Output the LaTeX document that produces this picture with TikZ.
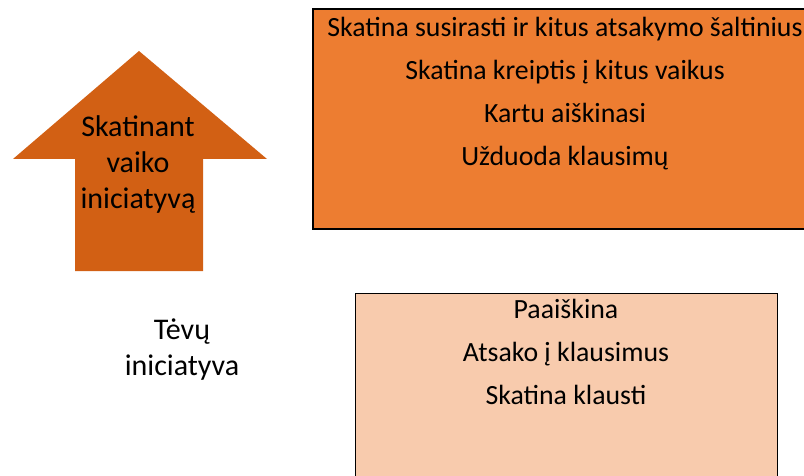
\documentclass[tikz,border=0pt]{standalone}
\usepackage{fontspec}
\setmainfont{Carlito}
\usepackage{tikz}

\definecolor{arrowfill}{RGB}{210,96,20}
\definecolor{topfill}{RGB}{237,125,49}
\definecolor{lowfill}{RGB}{248,203,173}

\tikzset{
	txt/.style={font=\fontsize{27.8}{30}\selectfont, text=black, inner sep=0pt, anchor=base},
	bigtxt/.style={txt, font=\fontsize{30}{32}\selectfont},
	boxline/.style={draw=black, line width=1.5pt}
}

\begin{document}
\begin{tikzpicture}[x=1pt, y=-1pt]
		\useasboundingbox (0,0) rectangle (804,476);
		
		% up arrow
		\fill [arrowfill] (139,51) -- (267,159) -- (203,159) -- (203,271)
			-- (75,271) -- (75,159) -- (13,159) -- cycle;
		\node [bigtxt] (arrow1) at (138,137) {Skatinant};
		\node [bigtxt] (arrow2) at (138,173) {vaiko};
		\node [bigtxt] (arrow3) at (138,208) {iniciatyvą};
		
		% parent label
		\node [bigtxt] (parent1) at (182,339) {Tėvų};
		\node [bigtxt] (parent2) at (182,375) {iniciatyva};
		
		% upper box
		\draw [boxline, fill=topfill] (313,9) rectangle (820,229);
		\node [txt] (top1) at (565,37) {Skatina susirasti ir kitus atsakymo šaltinius};
		\node [txt] (top2) at (565,80) {Skatina kreiptis į kitus vaikus};
		\node [txt] (top3) at (565,123) {Kartu aiškinasi};
		\node [txt] (top4) at (565,166) {Užduoda klausimų};
		
		% lower box
		\draw [boxline, line width=1pt, fill=lowfill] (355,293) rectangle (777,490);
		\node [txt] (low1) at (566,318) {Paaiškina};
		\node [txt] (low2) at (566,361) {Atsako į klausimus};
		\node [txt] (low3) at (566,404) {Skatina klausti};
	\end{tikzpicture}
\end{document}
